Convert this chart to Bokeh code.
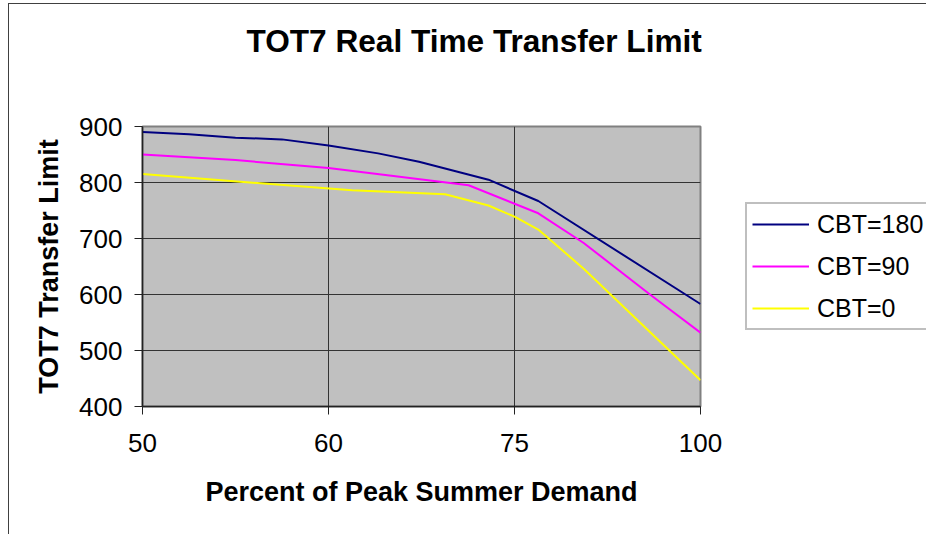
import numpy as np
from bokeh.plotting import figure
from bokeh.models import FixedTicker, Legend, LegendItem, Range1d, Title
from bokeh.embed import file_html
from bokeh.resources import INLINE

title_text = "TOT7 Real Time Transfer Limit"
x_title = "Percent of Peak Summer Demand"
y_title = "TOT7 Transfer Limit"

# category axis: labelled positions (equally spaced on the chart)
x_categories = [50, 60, 75, 100]
x_tick_labels = ["50", "60", "75", "100"]
y_ticks = [400, 500, 600, 700, 800, 900]

series_names = ["CBT=180", "CBT=90", "CBT=0"]
series_colors = ["#000080", "#FF00FF", "#FFFF00"]

cbt180_x = [50, 52.5, 55, 57.5, 60, 64.0, 67.3, 72.9, 78.2, 100]
cbt180_y = [890, 886, 880, 877, 866, 852, 837, 805, 767, 583]

cbt90_x = [50, 55, 60, 71.3, 78.2, 84.3, 93.3, 100]
cbt90_y = [850, 840, 826, 795, 745, 692, 599, 532]

cbt0_x = [50, 61.9, 69.4, 72.9, 75, 78.2, 84.3, 90.6, 100]
cbt0_y = [815, 786, 779, 759, 739, 716, 646, 566, 447]

series_x = [cbt180_x, cbt90_x, cbt0_x]
series_y = [cbt180_y, cbt90_y, cbt0_y]

cat_pos = list(range(len(x_categories)))


def to_pos(xs):
    return np.interp(xs, x_categories, cat_pos)


FONT = "Liberation Sans"

p = figure(frame_width=558, frame_height=280, output_backend="svg", toolbar_location=None,
           x_range=Range1d(0, 3), y_range=Range1d(400, 900),
           min_border_left=133, min_border_right=227,
           min_border_top=122, min_border_bottom=129)
p.styles = {"margin-left": "8px", "margin-top": "3px",
            "border-left": "1px solid #404040",
            "border-top": "1px solid #404040",
            "width": "918px", "height": "531px", "overflow": "hidden"}

p.background_fill_color = "#C0C0C0"
p.border_fill_color = "white"
p.outline_line_color = "#808080"
p.outline_line_width = 2

# spacer between frame and title (stacked next to the frame)
p.add_layout(Title(text=" ", text_font_size="1px", standoff=65), "above")

# title
p.title.text = title_text
p.title.align = "left"
p.title.offset = 104
p.title.standoff = 0
p.title.vertical_align = "bottom"
p.title.text_font = FONT
p.title.text_font_size = "31.6px"
p.title.text_font_style = "bold"
p.title.text_color = "black"

# axes
p.xaxis.ticker = FixedTicker(ticks=cat_pos)
p.xaxis.major_label_overrides = {i: lab for i, lab in zip(cat_pos, x_tick_labels)}
p.yaxis.ticker = FixedTicker(ticks=y_ticks)
p.xaxis.axis_label = x_title
p.yaxis.axis_label = y_title
for ax in (p.xaxis, p.yaxis):
    ax.major_label_text_font = FONT
    ax.major_label_text_font_size = "26px"
    ax.major_label_text_color = "black"
    ax.axis_label_text_font = FONT
    ax.axis_label_text_font_size = "27px"
    ax.axis_label_text_font_style = "bold"
    ax.axis_label_text_color = "black"
    ax.axis_line_color = "#222222"
    ax.axis_line_width = 1.5
    ax.major_tick_line_color = "#222222"
    ax.major_tick_out = 8
    ax.major_tick_in = 0
    ax.minor_tick_line_color = None
p.xaxis.major_label_standoff = 19
p.yaxis.major_label_standoff = 12
p.xaxis.axis_label_standoff = 22
p.yaxis.axis_label_standoff = 12

# grid
p.xgrid.ticker = FixedTicker(ticks=cat_pos[1:-1])
p.ygrid.ticker = FixedTicker(ticks=y_ticks[1:-1])
p.grid.grid_line_color = "#333333"
p.grid.grid_line_width = 1

items = []
for name, color, xs, ys in zip(series_names, series_colors, series_x, series_y):
    r = p.line(to_pos(xs), ys, line_color=color, line_width=2)
    items.append(LegendItem(label=name, renderers=[r]))

# spacer between frame and legend on the right side
p.add_layout(Title(text=" ", text_font_size="1px", standoff=42), "right")

legend = Legend(items=items, location="left")
legend.border_line_color = "#808080"
legend.border_line_width = 2
legend.background_fill_color = "white"
legend.background_fill_alpha = 1
legend.label_text_font = FONT
legend.label_text_font_size = "25px"
legend.label_text_color = "black"
legend.glyph_width = 57
legend.glyph_height = 30
legend.label_height = 30
legend.label_standoff = 8
legend.padding = 5
legend.spacing = 12
legend.margin = 0
p.add_layout(legend, "right")

open("out.html", "w").write(file_html(p, INLINE))
